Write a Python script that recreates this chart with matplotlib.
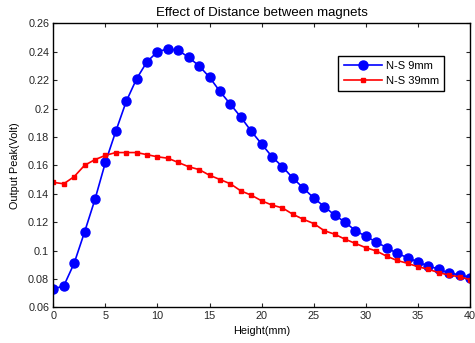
import matplotlib
matplotlib.use("Agg")
import matplotlib.pyplot as plt
import numpy as np

# Height (mm) and output peak (V)
height = list(range(0, 41))
ns_9mm = [0.073, 0.075, 0.091, 0.113, 0.136, 0.162, 0.184, 0.205, 0.221, 0.233,
          0.240, 0.242, 0.241, 0.236, 0.230, 0.222, 0.212, 0.203, 0.194, 0.184,
          0.175, 0.166, 0.159, 0.151, 0.144, 0.137, 0.131, 0.125, 0.120, 0.114,
          0.110, 0.106, 0.102, 0.098, 0.095, 0.092, 0.089, 0.087, 0.084, 0.083,
          0.081]
ns_39mm = [0.148, 0.147, 0.152, 0.160, 0.164, 0.167, 0.169, 0.169, 0.169, 0.1675,
           0.166, 0.165, 0.162, 0.159, 0.157, 0.153, 0.150, 0.147, 0.142, 0.139,
           0.135, 0.132, 0.130, 0.1255, 0.122, 0.119, 0.114, 0.1115, 0.108, 0.105,
           0.102, 0.0997, 0.096, 0.093, 0.091, 0.0886, 0.0868, 0.0844, 0.0827, 0.0815,
           0.0795]
series_labels = ["N-S 9mm", "N-S 39mm"]
xticks = [0, 5, 10, 15, 20, 25, 30, 35, 40]
yticks = [0.06, 0.08, 0.1, 0.12, 0.14, 0.16, 0.18, 0.2, 0.22, 0.24, 0.26]
ytick_labels = ["0.06", "0.08", "0.1", "0.12", "0.14", "0.16", "0.18", "0.2", "0.22", "0.24", "0.26"]

plt.rcParams["font.family"] = ["Liberation Sans", "DejaVu Sans"]

fig = plt.figure(figsize=(4.75, 3.43), dpi=100)
ax = fig.add_axes([0.1122, 0.104, 0.8773, 0.828])

ax.plot(height, ns_9mm, color="#0000ff", lw=1.2, marker="o", markersize=6.5,
        label=series_labels[0])
ax.plot(height, ns_39mm, color="#ff0000", lw=1.2, marker="s", markersize=3,
        label=series_labels[1])

ax.set_xlim(0, 40)
ax.set_ylim(0.06, 0.26)
ax.set_xticks(xticks)
ax.set_yticks(yticks)
ax.set_yticklabels(ytick_labels)
ax.tick_params(direction="in", top=True, right=True, labelsize=7.8, length=3,
               width=0.8, colors="#262626", pad=3)
for s in ax.spines.values():
    s.set_linewidth(1.0)
    s.set_color("black")

ax.set_title("Effect of Distance between magnets", fontsize=9.5, pad=5)
ax.set_xlabel("Height(mm)", fontsize=7.8, labelpad=3)
ax.set_ylabel("Output Peak(Volt)", fontsize=7.8, labelpad=6)

leg = ax.legend(loc="upper right", bbox_to_anchor=(0.952, 0.906), fontsize=8,
                fancybox=False, edgecolor="black", framealpha=1,
                handlelength=3.5, borderpad=0.5, labelspacing=0.4,
                handletextpad=0.3)
leg.get_frame().set_linewidth(1.0)

fig.savefig("out.png", dpi=100)
